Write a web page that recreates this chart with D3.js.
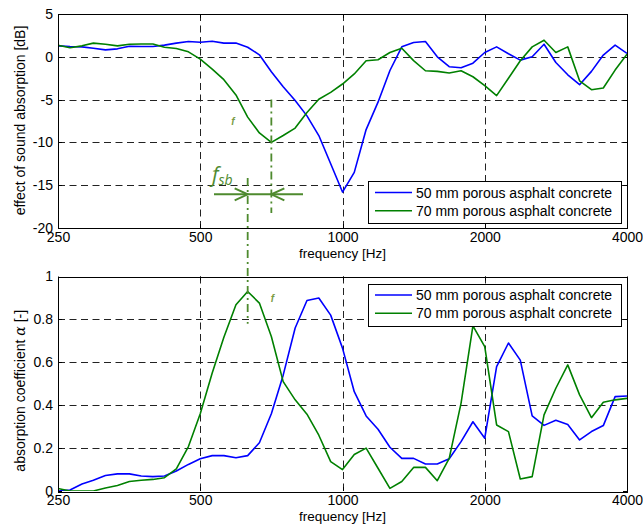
<!DOCTYPE html>
<html>
<head>
<meta charset="utf-8">
<script src="https://cdn.jsdelivr.net/npm/d3@7/dist/d3.min.js"></script>
<style>
  html, body { margin: 0; padding: 0; background: #fff; }
  svg { display: block; font-family: "Liberation Sans", Arial, sans-serif; }
</style>
</head>
<body>
<svg id="chart" width="643" height="530"></svg>
<script>
// ---- data ----
const freqs = [250, 265, 281, 297, 315, 334, 354, 375, 397, 420, 445, 472,
  500, 530, 561, 595, 630, 667, 707, 749, 794, 841, 891, 944,
  1000, 1059, 1122, 1189, 1260, 1335, 1414, 1498, 1587, 1682, 1782, 1888,
  2000, 2119, 2245, 2378, 2520, 2670, 2828, 2997, 3175, 3364, 3564, 3775, 4000];

const effect50 = [1.28, 1.2, 1.16, 1.0, 0.81, 0.93, 1.24, 1.2, 1.2, 1.36, 1.6, 1.78,
  1.7, 1.82, 1.6, 1.6, 1.12, 0.23, -1.74, -3.5, -5.1, -6.9, -9.2, -12.5,
  -15.8, -13.5, -8.5, -5.3, -1.6, 1.16, 1.67, 1.78, 0, -1.16, -1.28, -0.74,
  0.5, 1.16, 0.35, -0.39, 0, 1.47, -0.66, -2.1, -3.26, -1.7, 0.2, 1.36, 0.39];

const effect70 = [1.36, 1.05, 1.28, 1.6, 1.47, 1.28, 1.47, 1.5, 1.5, 1.12, 0.97, 0.58,
  -0.27, -1.43, -2.67, -4.46, -7.05, -8.9, -10.0, -9.2, -8.33, -6.5, -4.96, -4.15,
  -3.18, -2.0, -0.47, -0.35, 0.5, 1.0, -0.45, -1.63, -1.7, -1.9, -1.63, -2.33,
  -3.37, -4.53, -2.5, -0.47, 1.16, 1.94, 0.5, 1.16, -2.8, -3.84, -3.64, -1.55, 0.3];

const alpha50 = [0.0, 0.005, 0.033, 0.05, 0.072, 0.08, 0.08, 0.07, 0.067, 0.07, 0.093, 0.124,
  0.15, 0.165, 0.165, 0.155, 0.165, 0.225, 0.36, 0.54, 0.76, 0.888, 0.9, 0.82,
  0.666, 0.463, 0.35, 0.288, 0.204, 0.152, 0.152, 0.126, 0.126, 0.15, 0.23, 0.323,
  0.246, 0.58, 0.69, 0.61, 0.35, 0.306, 0.33, 0.31, 0.238, 0.277, 0.305, 0.44, 0.443];

const alpha70 = [0.012, 0.0, 0.0, 0.0, 0.014, 0.026, 0.044, 0.05, 0.054, 0.062, 0.103, 0.207,
  0.36, 0.55, 0.717, 0.868, 0.93, 0.876, 0.72, 0.51, 0.425, 0.358, 0.26, 0.137,
  0.1, 0.17, 0.2, 0.106, 0.012, 0.044, 0.11, 0.11, 0.048, 0.152, 0.41, 0.77,
  0.673, 0.308, 0.277, 0.056, 0.067, 0.355, 0.479, 0.588, 0.448, 0.342, 0.414, 0.425, 0.432];

const xTicks = [250, 500, 1000, 2000, 4000];
const yTicksTop = [5, 0, -5, -10, -15, -20];
const yTicksBottom = [0, 0.2, 0.4, 0.6, 0.8, 1];
const seriesNames = ["50 mm porous asphalt concrete", "70 mm porous asphalt concrete"];
const seriesColors = ["#0000ff", "#008000"];
const fsbFreq = 630;   // annotation: f_sb
const fTopFreq = 707;  // annotation: f (minimum of 70 mm curve)

// ---- layout ----
const svg = d3.select("#chart");
const L = 58, R = 627;
const x = d3.scaleLog().domain([250, 4000]).range([L, R]);
const panels = [
  { top: 14, bottom: 228, domain: [-20, 5], ticks: yTicksTop, fmt: d => String(d),
    series: [effect50, effect70], ylabel: "effect of sound absorption [dB]", legendY: 181 },
  { top: 276.5, bottom: 491, domain: [0, 1], ticks: yTicksBottom, fmt: d => (d === 0 || d === 1) ? String(d) : d.toFixed(1),
    series: [alpha50, alpha70], ylabel: null, legendY: 283.5 }
];
const annot = "#4e8a2e";
const px = v => Math.round(v) + 0.5;

panels.forEach((p, pi) => {
  const y = d3.scaleLinear().domain(p.domain).range([p.bottom, p.top]);
  p.y = y;
  const g = svg.append("g");
  const clipId = "clip" + pi;
  svg.append("clipPath").attr("id", clipId).append("rect")
    .attr("x", L).attr("y", p.top).attr("width", R - L).attr("height", p.bottom - p.top);

  // grid
  xTicks.slice(1, -1).forEach(t => {
    g.append("line").attr("x1", px(x(t))).attr("x2", px(x(t)))
      .attr("y1", p.top).attr("y2", p.bottom)
      .attr("stroke", "#222").attr("stroke-width", 1).attr("stroke-dasharray", "7,4.5");
  });
  p.ticks.filter(t => t !== p.domain[0] && t !== p.domain[1]).forEach(t => {
    g.append("line").attr("x1", L).attr("x2", R)
      .attr("y1", px(y(t))).attr("y2", px(y(t)))
      .attr("stroke", "#222").attr("stroke-width", 1).attr("stroke-dasharray", "7,4.5");
  });

  // ticks inward on all sides
  xTicks.forEach(t => {
    const xx = px(x(t));
    g.append("line").attr("x1", xx).attr("x2", xx).attr("y1", p.bottom).attr("y2", p.bottom - 4).attr("stroke", "#000");
    g.append("line").attr("x1", xx).attr("x2", xx).attr("y1", p.top).attr("y2", p.top + 4).attr("stroke", "#000");
  });
  p.ticks.forEach(t => {
    const yy = px(y(t));
    g.append("line").attr("x1", L).attr("x2", L + 4).attr("y1", yy).attr("y2", yy).attr("stroke", "#000");
    g.append("line").attr("x1", R).attr("x2", R - 4).attr("y1", yy).attr("y2", yy).attr("stroke", "#000");
  });

  // data lines
  const line = d3.line().x((d, i) => x(freqs[i])).y(d => y(d));
  p.series.forEach((s, si) => {
    g.append("path").datum(s).attr("d", line)
      .attr("clip-path", `url(#${clipId})`)
      .attr("fill", "none").attr("stroke", seriesColors[si]).attr("stroke-width", 1.6)
      .attr("stroke-linejoin", "round");
  });

  // box
  g.append("rect").attr("x", px(L)).attr("y", px(p.top)).attr("width", Math.round(R - L))
    .attr("height", Math.round(p.bottom - p.top)).attr("fill", "none").attr("stroke", "#000").attr("stroke-width", 1);

  // axis labels via d3 axes
  const xa = g.append("g").attr("transform", `translate(0,${p.bottom})`)
    .call(d3.axisBottom(x).tickValues(xTicks).tickFormat(d3.format("d")).tickSize(0).tickPadding(4));
  const ya = g.append("g").attr("transform", `translate(${L},0)`)
    .call(d3.axisLeft(y).tickValues(p.ticks).tickFormat(p.fmt).tickSize(0).tickPadding(5));
  [xa, ya].forEach(a => {
    a.select(".domain").remove();
    a.selectAll("text").attr("fill", "#000").style("font-size", "14px")
      .style("font-family", '"Liberation Sans", Arial, sans-serif');
  });

  // x label
  g.append("text").attr("x", (L + R) / 2).attr("y", p.bottom + 30)
    .attr("text-anchor", "middle").style("font-size", "13.5px").text("frequency [Hz]");

  // y label
  const yc = (p.top + p.bottom) / 2 + (pi === 0 ? -0.5 : 7);
  const yl = g.append("text").attr("transform", `translate(25,${yc}) rotate(-90)`)
    .attr("text-anchor", "middle").style("font-size", "14px");
  if (p.ylabel) yl.text(p.ylabel);
  else {
    yl.append("tspan").text("absorption coefficient ");
    yl.append("tspan").style("font-style", "italic").style("font-family", '"DejaVu Serif", serif').text("α");
    yl.append("tspan").text(" [-]");
  }

  // legend
  const lg = g.append("g");
  lg.append("rect").attr("x", 368.5).attr("y", px(p.legendY)).attr("width", 253).attr("height", 42)
    .attr("fill", "#fff").attr("stroke", "#000").attr("stroke-width", 1);
  seriesNames.forEach((n, si) => {
    const ly = p.legendY + 11.5 + si * 18.3;
    lg.append("line").attr("x1", 375).attr("x2", 412).attr("y1", ly).attr("y2", ly)
      .attr("stroke", seriesColors[si]).attr("stroke-width", 1.6);
    lg.append("text").attr("x", 416).attr("y", ly + 5).style("font-size", "14px").attr("fill", "#000").text(n);
  });
});

// ---- annotations ----
const yTop = panels[0].y, yBot = panels[1].y;
const xf = x(fTopFreq), xs = x(fsbFreq);
const dashDot = "8,4,2,4";
svg.append("line").attr("x1", xf).attr("x2", xf).attr("y1", yTop(-5)).attr("y2", 213)
  .attr("stroke", annot).attr("stroke-width", 1.8).attr("stroke-dasharray", dashDot);
svg.append("line").attr("x1", xs).attr("x2", xs).attr("y1", 178).attr("y2", yBot(0.78))
  .attr("stroke", annot).attr("stroke-width", 1.8).attr("stroke-dasharray", dashDot);

const ay = 194.3;
svg.append("line").attr("x1", 214).attr("x2", 303).attr("y1", ay).attr("y2", ay)
  .attr("stroke", annot).attr("stroke-width", 2);
svg.append("path").attr("d", `M${xs - 13},${ay - 6} L${xs},${ay} L${xs - 13},${ay + 6}`)
  .attr("fill", "none").attr("stroke", annot).attr("stroke-width", 2);
svg.append("path").attr("d", `M${xf + 13},${ay - 6} L${xf},${ay} L${xf + 13},${ay + 6}`)
  .attr("fill", "none").attr("stroke", annot).attr("stroke-width", 2);

const ft = svg.append("text").attr("x", 212).attr("y", 182)
  .style("font-family", '"Open Sans", "DejaVu Sans", sans-serif').style("font-style", "italic")
  .attr("fill", annot);
ft.append("tspan").style("font-size", "21px").text("f");
ft.append("tspan").style("font-size", "14px").attr("dy", 3).text("sb");

svg.append("text").attr("x", 233).attr("y", 125).attr("text-anchor", "middle")
  .style("font-size", "10px").style("font-weight", "bold").style("font-style", "italic")
  .attr("fill", "#7a9c45").text("f");
svg.append("text").attr("x", 272.5).attr("y", 302).attr("text-anchor", "middle")
  .style("font-size", "10px").style("font-weight", "bold").style("font-style", "italic")
  .attr("fill", "#7a9c45").text("f");
</script>
</body>
</html>
